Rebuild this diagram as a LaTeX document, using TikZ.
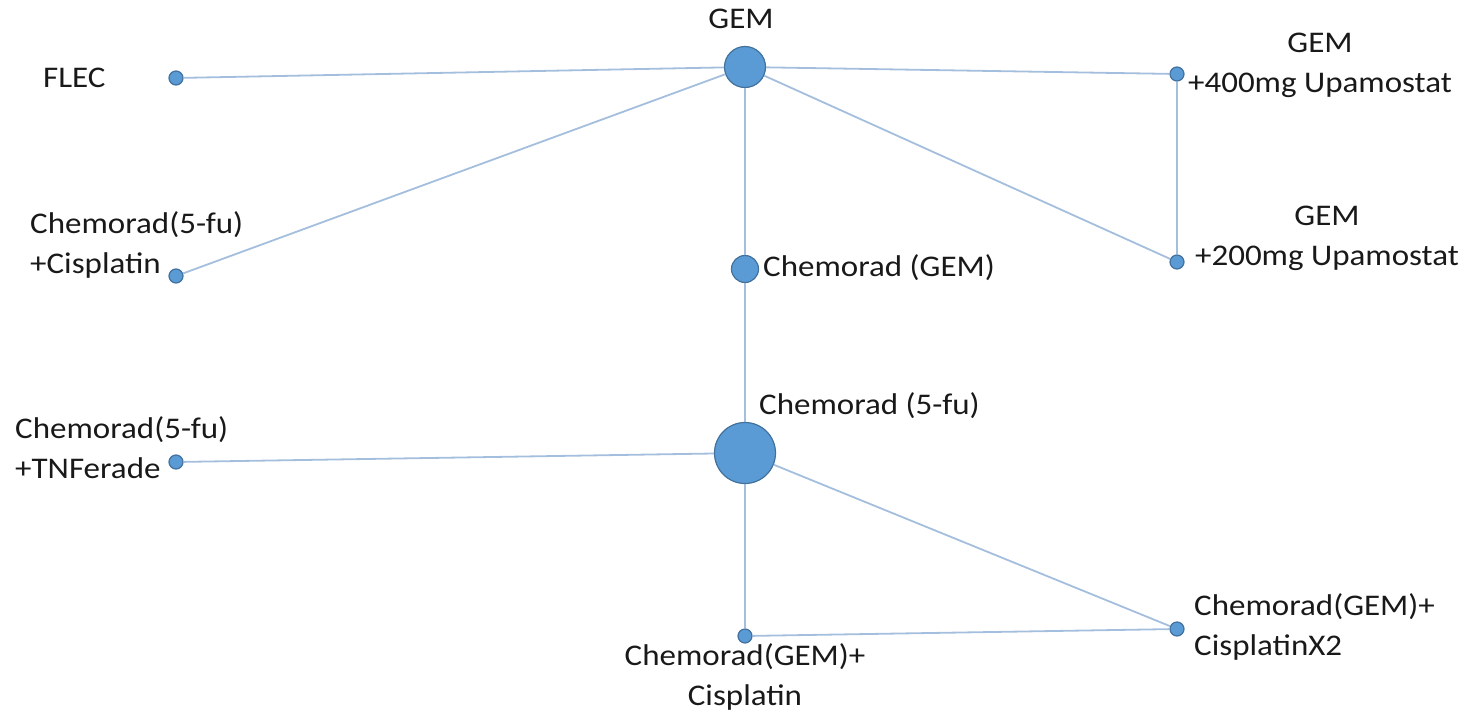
\documentclass[tikz,border=0pt]{standalone}
\usepackage{fontspec}
\setmainfont{Carlito}[FakeStretch=1.1]
\usepackage{tikz}
\usetikzlibrary{positioning}
\definecolor{nodeblue}{RGB}{91,155,213}
\definecolor{nodeedge}{RGB}{65,113,156}
\definecolor{linkblue}{RGB}{164,190,222}
\definecolor{txtgray}{RGB}{25,25,25}
\begin{document}
\begin{tikzpicture}[x=1pt,y=-1pt]
            \tikzstyle{trt}=[circle, inner sep=0pt, fill=nodeblue, draw=nodeedge, line width=1.2pt]
            \tikzstyle{small}=[trt, minimum size=14pt]
            \tikzstyle{lbl}=[inner sep=0pt, text=txtgray, font=\fontsize{30}{40}\selectfont]
            \tikzstyle{connect}=[line width=1.8pt, draw=linkblue]
            \useasboundingbox (0,0) rectangle (1468,718);
            \node[trt, minimum size=41pt] (GEM) at (745,67){};
            \node[small] (FLEC) at (176,78){};
            \node[small] (C5C) at (176,276){};
            \node[trt, minimum size=27pt] (CG) at (745,269){};
            \node[small] (U400) at (1177,74){};
            \node[small] (U200) at (1177,262){};
            \node[trt, minimum size=61pt] (C5) at (745,453){};
            \node[small] (C5T) at (176,462){};
            \node[small] (CGC) at (745,636){};
            \node[small] (CGC2) at (1177,629){};

            \node[lbl] (lGEM) at (741,19){GEM};
            \node[lbl, anchor=west] (lFLEC) at (43,78){FLEC};
            \node[lbl, anchor=west, align=left] (lC5C) at (30,245){Chemorad(5-fu)\\+Cisplatin};
            \node[lbl, anchor=west] (lCG) at (763,268){Chemorad (GEM)};
            \node[lbl, align=center] (lU400) at (1320,65){GEM\\+400mg Upamostat};
            \node[lbl, align=center] (lU200) at (1327,238){GEM\\+200mg Upamostat};
            \node[lbl, anchor=west] (lC5) at (759,406){Chemorad (5-fu)};
            \node[lbl, anchor=west, align=left] (lC5T) at (15,448){Chemorad(5-fu)\\+TNFerade};
            \node[lbl, align=center] (lCGC) at (745,677){Chemorad(GEM)+\\Cisplatin};
            \node[lbl, anchor=west, align=left] (lCGC2) at (1194,627){Chemorad(GEM)+\\CisplatinX2};

            \path[-] (FLEC) edge [connect] (GEM);
            \path[-] (C5C) edge [connect] (GEM);
            \path[-] (GEM) edge [connect] (CG);
            \path[-] (GEM) edge [connect] (U400);
            \path[-] (GEM) edge [connect] (U200);
            \path[-] (U400) edge [connect] (U200);
            \path[-] (CG) edge [connect] (C5);
            \path[-] (C5T) edge [connect] (C5);
            \path[-] (C5) edge [connect] (CGC);
            \path[-] (C5) edge [connect] (CGC2);
            \path[-] (CGC) edge [connect] (CGC2);
        \end{tikzpicture}
\end{document}
